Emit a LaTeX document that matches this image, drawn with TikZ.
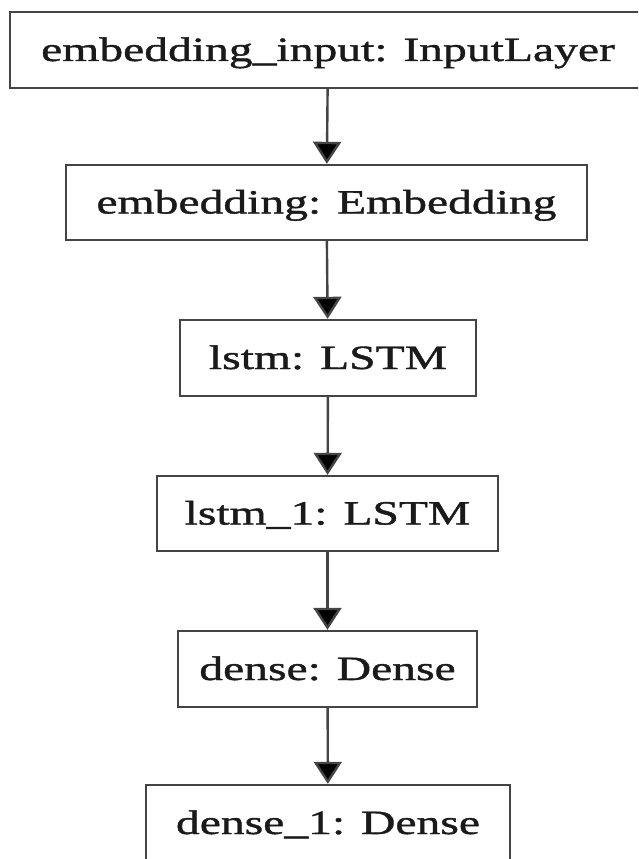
\documentclass[tikz,border=0pt]{standalone}
\usepackage{fontspec}
\setmainfont{Liberation Serif}
\newfontfamily\layerfont{Liberation Serif}[FakeStretch=1.4, FakeBold=1.2]
\usetikzlibrary{arrows.meta}
\definecolor{edgegray}{HTML}{444444}
\definecolor{textgray}{HTML}{1A1A1A}
\begin{document}
\begin{tikzpicture}[x=1pt,y=-1pt,
  layer/.style={draw=edgegray, line width=2.4pt, rectangle, inner sep=0pt,
    text=textgray, font=\layerfont\fontsize{34}{40}\selectfont,
    text height=22pt, text depth=0pt},
  flow/.style={draw=edgegray, line width=2.4pt,
    -{Triangle[length=22pt,width=28pt,fill=black]}}
]
\useasboundingbox (0,0) rectangle (638,859);
\clip (0,0) rectangle (638,859);
\node[layer, minimum width=636pt, minimum height=76pt] (n1) at (328,50) {embedding\_input: InputLayer};
\node[layer, minimum width=521pt, minimum height=75pt] (n2) at (326.5,202.5) {embedding: Embedding};
\node[layer, minimum width=296pt, minimum height=76pt] (n3) at (328,358) {lstm: LSTM};
\node[layer, minimum width=341pt, minimum height=75pt] (n4) at (327.5,513.5) {lstm\_1: LSTM};
\node[layer, minimum width=299pt, minimum height=76pt] (n5) at (327.5,669) {dense: Dense};
\node[layer, minimum width=364pt, minimum height=76pt] (n6) at (328,823) {dense\_1: Dense};
\draw[flow] (n1) -- (n2);
\draw[flow] (n2) -- (n3);
\draw[flow] (n3) -- (n4);
\draw[flow] (n4) -- (n5);
\draw[flow] (n5) -- (n6);
\end{tikzpicture}
\end{document}
